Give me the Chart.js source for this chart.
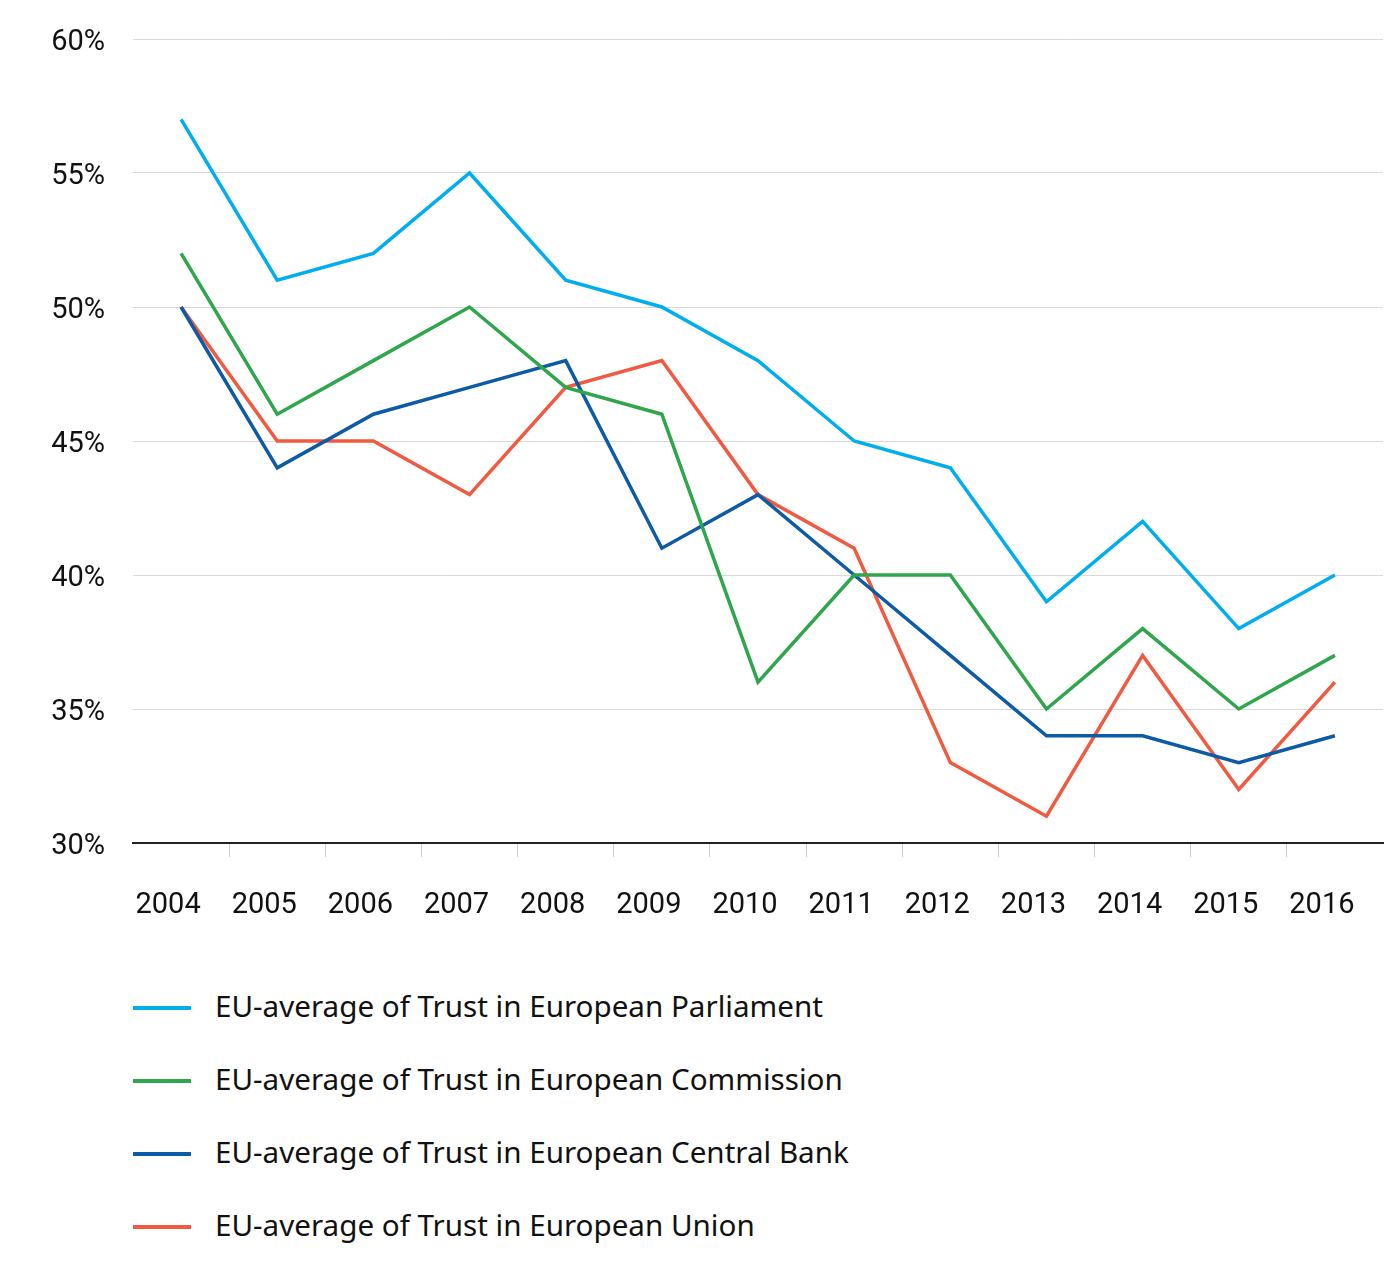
<!DOCTYPE html>
<html>
<head>
<meta charset="utf-8">
<script src="https://cdn.jsdelivr.net/npm/chart.js@4/dist/chart.umd.min.js"></script>
<style>
  body { margin: 0; background: #fff; font-family: Roboto, sans-serif; }
  #wrap { width: 1400px; height: 940px; position: relative; }
  #legend { margin: 0; padding: 0; list-style: none; position: absolute; left: 133px; top: 985px; }
  #legend li { height: 73px; display: flex; align-items: flex-start; font-family: "Noto Sans", Roboto, sans-serif; font-size: 29.6px; color: #111; }
  #legend li span.sw { display: inline-block; width: 58px; height: 4px; margin-top: 21px; margin-right: 24px; }
</style>
</head>
<body>
<div id="wrap"><canvas id="chart" width="1400" height="940"></canvas></div>
<ul id="legend"></ul>
<script>
var years = ['2004','2005','2006','2007','2008','2009','2010','2011','2012','2013','2014','2015','2016']
var parliament = [57, 51, 52, 55, 51, 50, 48, 45, 44, 39, 42, 38, 40]
var commission = [52, 46, 48, 50, 47, 46, 36, 40, 40, 35, 38, 35, 37]
var centralBank = [50, 44, 46, 47, 48, 41, 43, 40, 37, 34, 34, 33, 34]
var union = [50, 45, 45, 43, 47, 48, 43, 41, 33, 31, 37, 32, 36]
var seriesNames = [
  'EU-average of Trust in European Parliament',
  'EU-average of Trust in European Commission',
  'EU-average of Trust in European Central Bank',
  'EU-average of Trust in European Union'
]
var seriesColors = ['#00aeef', '#2ea64c', '#0d5aa7', '#f15a40']
var seriesData = [parliament, commission, centralBank, union]

var datasets = []
for (var i = 0; i < seriesNames.length; i++) {
  datasets.push({
    label: seriesNames[i],
    data: seriesData[i],
    borderColor: seriesColors[i],
    backgroundColor: seriesColors[i],
    borderWidth: 3.5,
    pointRadius: 0,
    tension: 0,
    fill: false
  })
}

var ctx = document.getElementById('chart').getContext('2d')
var chart = new Chart(ctx, {
  type: 'line',
  data: { labels: years, datasets: datasets },
  options: {
    responsive: false,
    animation: false,
    layout: { padding: { top: 39, right: 17, left: 0, bottom: 0 } },
    plugins: { legend: { display: false }, tooltip: { enabled: false } },
    scales: {
      x: {
        offset: true,
        grid: {
          offset: true,
          drawOnChartArea: false,
          tickLength: 14,
          color: function (c) { return (c.type !== 'tick' || c.index === 0) ? 'rgba(0,0,0,0)' : '#cccccc' }
        },
        border: { display: true, color: '#222', width: 2 },
        ticks: { color: '#111', font: { family: 'Roboto', size: 29 }, padding: 31, labelOffset: -13, maxRotation: 0 },
        afterFit: function (s) { s.height = 97 }
      },
      y: {
        min: 30,
        max: 60,
        ticks: {
          stepSize: 5,
          color: '#111',
          font: { family: 'Roboto', size: 29 },
          padding: 28,
          labelOffset: 4,
          callback: function (v) { return v + '%' }
        },
        grid: { color: '#d9d9d9', lineWidth: 1, drawTicks: false },
        border: { display: false },
        afterFit: function (s) {
          s.width = 133
          s.paddingTop = 0
          s.paddingBottom = 0
        }
      }
    }
  }
})

var legend = document.getElementById('legend')
for (var j = 0; j < seriesNames.length; j++) {
  var li = document.createElement('li')
  var sw = document.createElement('span')
  sw.className = 'sw'
  sw.style.background = seriesColors[j]
  li.appendChild(sw)
  li.appendChild(document.createTextNode(seriesNames[j]))
  legend.appendChild(li)
}
</script>
</body>
</html>
